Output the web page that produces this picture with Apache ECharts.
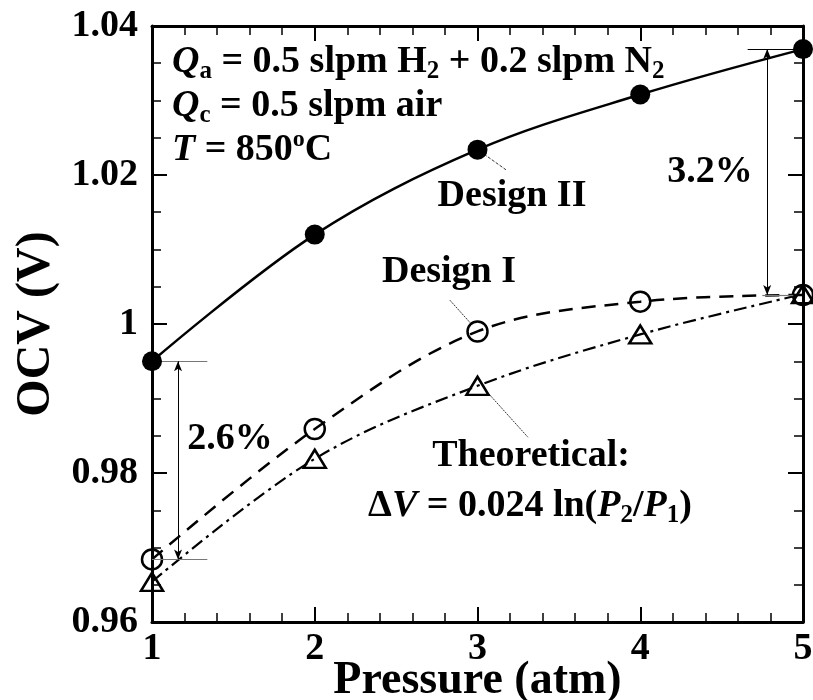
<!DOCTYPE html>
<html>
<head>
<meta charset="utf-8">
<script src="https://cdn.jsdelivr.net/npm/echarts@6/dist/echarts.min.js"></script>
<style>
  html, body { margin: 0; padding: 0; background: #fff; }
  #chart { width: 813px; height: 700px; }
</style>
</head>
<body>
<div id="chart"></div>
<script>
// Open-circuit voltage versus operating pressure
const pressure = [1, 2, 3, 4, 5];
const designII = [0.995, 1.012, 1.0234, 1.0308, 1.0369];
const designI = [0.9684, 0.9859, 0.999, 1.003, 1.0039];
const theoretical = [0.9654, 0.9819, 0.9917, 0.9986, 1.004];
const yTicks = [0.96, 0.98, 1, 1.02, 1.04];
const xTicks = [1, 2, 3, 4, 5];

const FONT = '"Liberation Serif", "Times New Roman", serif';
const FS = 38;
const chart = echarts.init(document.getElementById('chart'), null, { renderer: 'canvas' });

const pairs = ys => pressure.map((p, i) => [p, ys[i]]);

const baseAxis = {
  axisLine: { show: true, onZero: false, lineStyle: { color: '#000', width: 3 } },
  axisTick: { show: true, inside: true, length: 15, lineStyle: { color: '#000', width: 2 } },
  minorTick: { show: true, length: 9, lineStyle: { color: '#000', width: 1.5 } },
  splitLine: { show: false },
  axisLabel: { fontFamily: FONT, fontWeight: 'bold', fontSize: FS, color: '#000' }
};

const txt = (x, y, text) => ({
  type: 'text', x: x, y: y, z: 100,
  style: {
    text: text, fill: '#000', font: 'bold ' + FS + 'px ' + FONT,
    textAlign: 'center', textVerticalAlign: 'middle'
  }
});

const rich = {
  n: { fontFamily: FONT, fontWeight: 'bold', fontSize: FS, lineHeight: 44 },
  i: { fontFamily: FONT, fontWeight: 'bold', fontStyle: 'italic', fontSize: FS, lineHeight: 44 },
  sub: { fontFamily: FONT, fontWeight: 'bold', fontSize: 25, lineHeight: 26, verticalAlign: 'bottom' },
  sup: { fontFamily: FONT, fontWeight: 'bold', fontSize: 24, lineHeight: 26, verticalAlign: 'top' }
};

const richText = (x, y, text, align) => ({
  type: 'text', x: x, y: y, z: 100,
  style: { text: text, rich: rich, fill: '#000', textAlign: align || 'left', textVerticalAlign: 'middle',
           font: 'bold ' + FS + 'px ' + FONT }
});

const thin = { color: '#000', width: 1, type: 'solid' };
const grey = { color: '#777', width: 1.2, type: 'solid' };
const leader = { color: '#000', width: 0.8, type: [2, 1] };

chart.setOption({
  animation: false,
  backgroundColor: '#fff',
  grid: { left: 152, right: 10, top: 26, bottom: 78, containLabel: false, outerBoundsMode: 'none' },
  xAxis: [
    Object.assign({}, baseAxis, {
      type: 'value', min: 1, max: 5, interval: 1, position: 'bottom',
      minorTick: Object.assign({}, baseAxis.minorTick, { splitNumber: 5 }),
      axisLabel: Object.assign({}, baseAxis.axisLabel, { margin: 8,
        formatter: v => xTicks.indexOf(v) >= 0 ? String(v) : '' }),
      name: 'Pressure (atm)', nameLocation: 'middle', nameGap: 36, nameMoveOverlap: false,
      nameTextStyle: { fontFamily: FONT, fontWeight: 'bold', fontSize: 46, color: '#000' }
    }),
    Object.assign({}, baseAxis, {
      type: 'value', min: 1, max: 5, interval: 1, position: 'top',
      minorTick: Object.assign({}, baseAxis.minorTick, { splitNumber: 5 }),
      axisLabel: { show: false }
    })
  ],
  yAxis: [
    Object.assign({}, baseAxis, {
      type: 'value', min: 0.96, max: 1.04, interval: 0.02, position: 'left',
      minorTick: Object.assign({}, baseAxis.minorTick, { splitNumber: 4 }),
      axisLabel: Object.assign({}, baseAxis.axisLabel, { margin: 14,
        formatter: v => { const t = yTicks.find(k => Math.abs(k - v) < 1e-9); return t === undefined ? '' : String(t); } }),
      name: 'OCV (V)', nameLocation: 'middle', nameGap: 91, nameRotate: 90, nameMoveOverlap: false,
      nameTextStyle: { fontFamily: FONT, fontWeight: 'bold', fontSize: 48, color: '#000' }
    }),
    Object.assign({}, baseAxis, {
      type: 'value', min: 0.96, max: 1.04, interval: 0.02, position: 'right',
      minorTick: Object.assign({}, baseAxis.minorTick, { splitNumber: 4 }),
      axisLabel: { show: false }
    })
  ],
  series: [
    {
      name: 'Design II', type: 'line', data: pairs(designII), smooth: 0.35,
      clip: false, z: 5,
      symbol: 'circle', symbolSize: 20,
      itemStyle: { color: '#000' },
      lineStyle: { color: '#000', width: 2.5 },
      markLine: {
        silent: true, symbol: 'none', label: { show: false }, animation: false,
        data: [
          // pressure gain brackets
          [{ coord: [1, designII[0]], lineStyle: grey }, { coord: [1.34, designII[0]] }],
          [{ coord: [1, designI[0]], lineStyle: grey }, { coord: [1.34, designI[0]] }],
          [{ coord: [1.16, designII[0]], symbol: 'arrow', symbolSize: [6, 10], lineStyle: thin },
           { coord: [1.16, designI[0]], symbol: 'arrow', symbolSize: [6, 10] }],
          [{ coord: [4.66, designII[4]], lineStyle: thin }, { coord: [5, designII[4]] }],
          [{ coord: [4.75, designI[4]], lineStyle: grey }, { coord: [4.94, designI[4]] }],
          [{ coord: [4.78, designII[4]], symbol: 'arrow', symbolSize: [6, 10], lineStyle: thin },
           { coord: [4.78, designI[4]], symbol: 'arrow', symbolSize: [6, 10] }],
          // leaders from curves to their labels
          [{ coord: [3.04, 1.0228], lineStyle: { color: '#000', width: 0.8 } }, { coord: [3.175, 1.0207] }],
          [{ coord: [2.83, 1.0032], lineStyle: leader }, { coord: [2.966, 0.9999] }],
          [{ coord: [3.058, 0.9909], lineStyle: leader }, { coord: [3.31, 0.9848] }]
        ]
      }
    },
    {
      name: 'Design I', type: 'line', data: pairs(designI), smooth: 0.35,
      clip: false, z: 4,
      symbol: 'circle', symbolSize: 20,
      itemStyle: { color: 'rgba(0,0,0,0)', borderColor: '#000', borderWidth: 2.5 },
      lineStyle: { color: '#000', width: 2.5, type: [14, 9] }
    },
    {
      name: 'Theoretical', type: 'line', data: pairs(theoretical), smooth: 0.35,
      clip: false, z: 3,
      symbol: 'triangle', symbolSize: [22, 18],
      itemStyle: { color: 'rgba(0,0,0,0)', borderColor: '#000', borderWidth: 2.5 },
      lineStyle: { color: '#000', width: 2.2, type: [13, 5, 3, 5] }
    }
  ],
  graphic: [
    richText(172, 62, '{i|Q}{sub|a}{n| = 0.5 slpm H}{sub|2}{n| + 0.2 slpm N}{sub|2}'),
    richText(172, 106, '{i|Q}{sub|c}{n| = 0.5 slpm air}'),
    richText(172, 150, '{i|T}{n| = 850}{sup|o}{n|C}'),
    txt(512, 196, 'Design II'),
    txt(710, 172, '3.2%'),
    txt(449, 272, 'Design I'),
    txt(230, 439, '2.6%'),
    txt(531, 456, 'Theoretical:'),
    richText(530, 506, '{n|\u0394}{i|V}{n| = 0.024 ln(}{i|P}{sub|2}{n|/}{i|P}{sub|1}{n|)}', 'center')
  ]
});
</script>
</body>
</html>
